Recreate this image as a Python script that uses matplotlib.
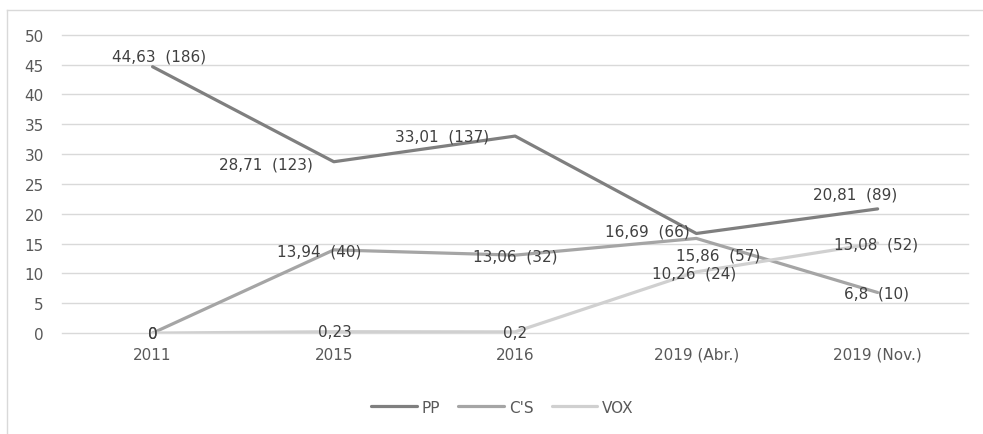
import matplotlib.pyplot as plt
from matplotlib.lines import Line2D

plt.rcParams['font.family'] = ['DejaVu Sans']

anios = ['2011', '2015', '2016', '2019 (Abr.)', '2019 (Nov.)']
pp = [44.63, 28.71, 33.01, 16.69, 20.81]
pp_esc = [186, 123, 137, 66, 89]
cs = [0, 13.94, 13.06, 15.86, 6.8]
cs_esc = [None, 40, 32, 57, 10]
vox = [0, 0.23, 0.2, 10.26, 15.08]
vox_esc = [None, None, None, 24, 52]

gris_txt = '#595959'

fig = plt.figure(figsize=(9.83, 4.35), dpi=100)
ax = fig.add_axes([0.063, 0.232, 0.922, 0.686])

x = range(len(anios))
ax.plot(x, pp, color='#7f7f7f', lw=2.3, solid_capstyle='round', label='PP')
ax.plot(x, cs, color='#a5a5a5', lw=2.3, solid_capstyle='round', label="C'S")
ax.plot(x, vox, color='#d0d0d0', lw=2.3, solid_capstyle='round', label='VOX')

def etiqueta(v, n):
    s = ('%g' % v).replace('.', ',')
    if n is not None:
        s += '  (%d)' % n
    return s

# offsets de las etiquetas en pixeles (centro del texto respecto al punto)
off_pp = [(7, 11), (-68, -2), (-73, 0), (-49, 2), (-22, 15)]
off_cs = [(0, 0), (-15, -1), (0, -1), (22, -17), (-1, -1)]
off_vox = [(0, 0), (1, 0), (0, -1), (-2, -1), (-2, -1)]

for serie, esc, offs in [(pp, pp_esc, off_pp), (cs, cs_esc, off_cs), (vox, vox_esc, off_vox)]:
    for i in x:
        ax.annotate(etiqueta(serie[i], esc[i]), (i, serie[i]), xytext=offs[i],
                    textcoords='offset pixels', ha='center', va='center',
                    fontsize=11, color='#404040', zorder=5)

ax.set_xlim(-0.5, 4.5)
ax.set_ylim(0, 50)
ax.set_yticks(range(0, 51, 5))
ax.set_xticks(list(x))
ax.set_xticklabels(anios)
ax.grid(axis='y', color='#d9d9d9', lw=1)
for gl in ax.get_ygridlines():
    gl.set_clip_on(False)
ax.set_axisbelow(True)
for s in ax.spines.values():
    s.set_visible(False)
ax.tick_params(length=0, labelsize=11, colors=gris_txt)
ax.tick_params(axis='y', pad=13)
ax.tick_params(axis='x', pad=10)

leg = fig.legend(loc='center', bbox_to_anchor=(0.511, 0.062), ncol=3, frameon=False,
                 handlelength=3.0, handletextpad=0.3, columnspacing=1.2, fontsize=11)
for t in leg.get_texts():
    t.set_color(gris_txt)

# marco del grafico
fig.add_artist(Line2D([7 / 983, 1.01], [1 - 11 / 435, 1 - 11 / 435], color='#d9d9d9', lw=1))
fig.add_artist(Line2D([7 / 983, 7 / 983], [-0.01, 1 - 11 / 435], color='#d9d9d9', lw=1))

fig.savefig('out.png', dpi=100)
